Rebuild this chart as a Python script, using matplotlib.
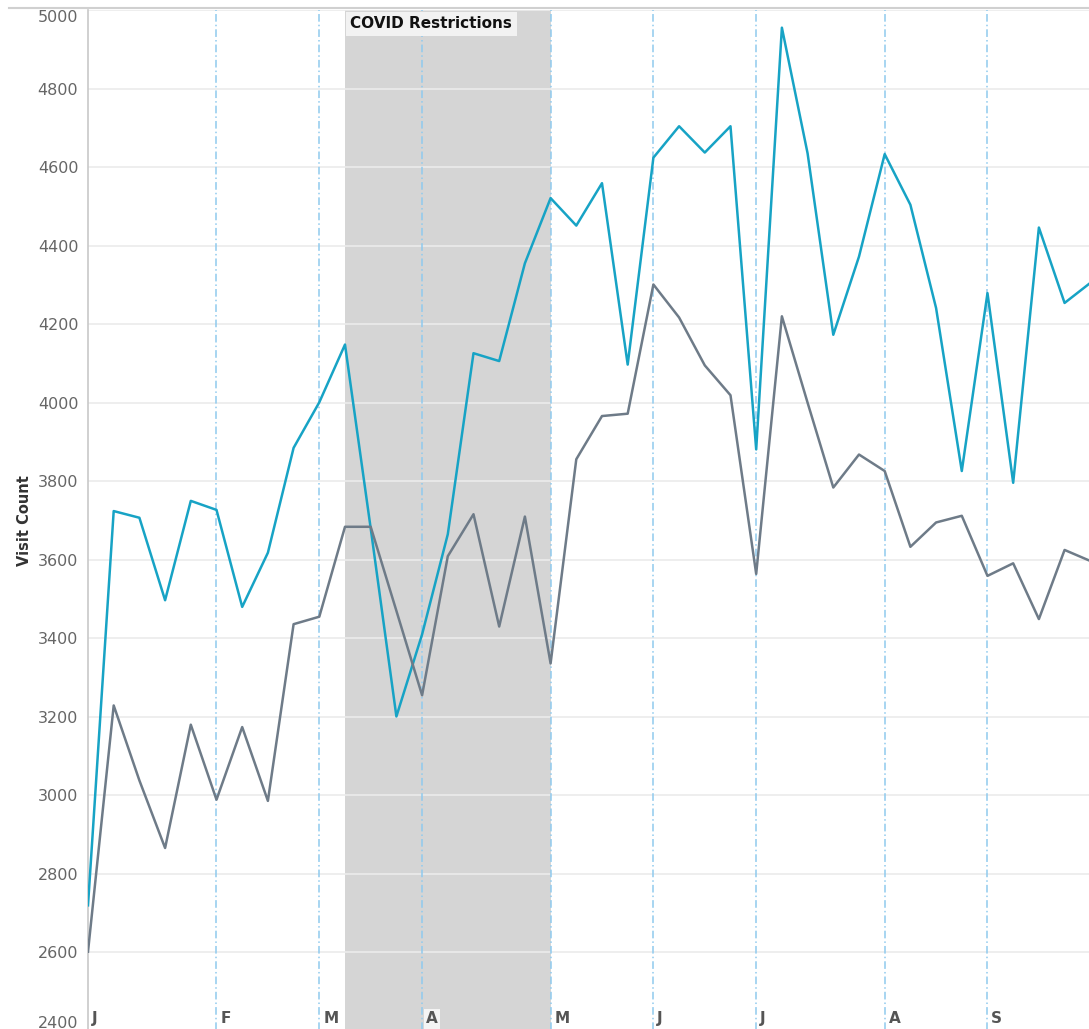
import matplotlib.pyplot as plt
from matplotlib.lines import Line2D

# weekly visit counts, week 0 = first week of January
teal_counts = [2720, 3724, 3707, 3497, 3750, 3727, 3480, 3618, 3885, 4001,
               4148, 3680, 3201, 3410, 3665, 4126, 4106, 4355, 4521, 4451,
               4559, 4097, 4624, 4704, 4637, 4704, 3881, 4955, 4635, 4173,
               4372, 4633, 4504, 4241, 3826, 4279, 3796, 4446, 4254, 4305]
gray_counts = [2602, 3229, 3038, 2866, 3180, 2989, 3174, 2986, 3436, 3455,
               3684, 3684, 3470, 3255, 3609, 3716, 3430, 3710, 3336, 3856,
               3966, 3972, 4301, 4217, 4095, 4019, 3564, 4220, 4000, 3784,
               3868, 3826, 3633, 3695, 3712, 3559, 3591, 3449, 3625, 3597]
weeks = list(range(len(teal_counts)))

month_labels = ['J', 'F', 'M', 'A', 'M', 'J', 'J', 'A', 'S']
month_weeks = [0, 5, 9, 13, 18, 22, 26, 31, 35]
covid_start, covid_end = 10, 18

teal = '#17a3c5'
slate = '#6e7b88'

fig = plt.figure(figsize=(10.89, 10.29), dpi=100)
ax = fig.add_axes([88 / 1089, -2 / 1029, 1 - 88 / 1089, 1021 / 1029])

ax.set_xlim(0, 38.95)
ax.set_ylim(2400, 5000)

# restriction period
ax.axvspan(covid_start, covid_end, color='#d5d5d5', zorder=0, lw=0)
ax.text(covid_start + 0.2, 4984, 'COVID Restrictions', fontsize=11, fontweight='bold',
        color='#111111', ha='left', va='top', zorder=5,
        bbox=dict(boxstyle='square,pad=0.3', fc='#f2f2f2', ec='none'))

ax.set_yticks(range(2400, 5001, 200))
ax.yaxis.grid(True, color='#ebebeb', lw=1.2, zorder=0.5)
ax.set_axisbelow(True)
ax.tick_params(axis='y', length=0, pad=7, labelsize=11.5, labelcolor='#666666')
labels = ax.get_yticklabels()
labels[0].set_va('bottom')
labels[-1].set_va('top')
ax.set_xticks([])

for wk, lab in zip(month_weeks, month_labels):
    if wk > 0:
        ax.axvline(wk, color='#8fcaee', lw=1.1, dashes=(5, 2, 1, 2), zorder=1)
    inband = covid_start <= wk < covid_end
    ax.text(wk + 0.15, 2412, lab, fontsize=11, fontweight='bold', color='#555555',
            ha='left', va='bottom', zorder=5,
            bbox=dict(boxstyle='square,pad=0.15', fc='#f4f4f4', ec='none') if inband else None)

ax.plot(weeks, teal_counts, color=teal, lw=1.8, zorder=3)
ax.plot(weeks, gray_counts, color=slate, lw=1.8, zorder=3)

for side in ['top', 'right', 'bottom']:
    ax.spines[side].set_visible(False)
ax.spines['left'].set_color('#c8c8c8')
ax.spines['left'].set_linewidth(1.2)

ax.set_ylabel('Visit Count', fontsize=10.5, fontweight='bold', color='#333333', labelpad=4)

fig.add_artist(Line2D([9 / 1089, 1], [1 - 8 / 1029, 1 - 8 / 1029], color='#d0d0d0', lw=1.5))

fig.savefig('out.png', dpi=100)
